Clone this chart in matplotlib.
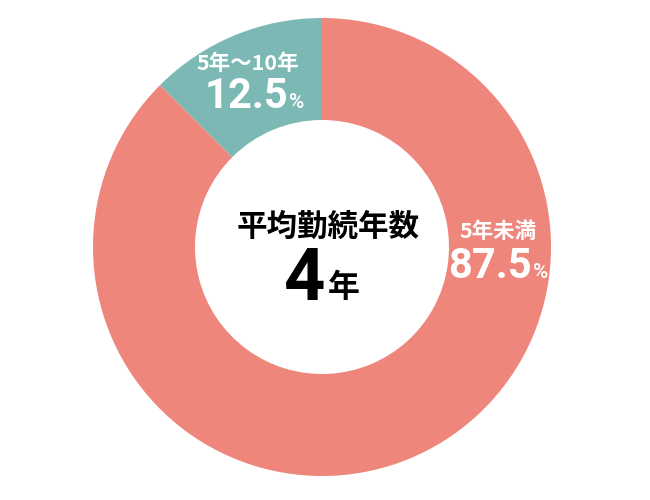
import matplotlib
matplotlib.use("Agg")
import matplotlib.pyplot as plt

categories = ["5年未満", "5年〜10年"]
values = [87.5, 12.5]
colors = ["#EE867C", "#7CB9B4"]
center_title = "平均勤続年数"
center_value = "4"
center_unit = "年"

plt.rcParams['font.family'] = ['Noto Sans CJK JP', 'DejaVu Sans']

fig = plt.figure(figsize=(6.5, 5), dpi=100)
ax = fig.add_axes([0, 0, 1, 1])

cx, cy, R = 322, 253, 229
ax.pie(values, colors=colors, startangle=90, counterclock=False,
       radius=R, center=(cx, cy), wedgeprops=dict(width=R - 127, linewidth=0),
       frame=True)
ax.set_xlim(0, 650)
ax.set_ylim(0, 500)
ax.set_aspect('equal')
ax.axis('off')

num_kw = dict(family=['Roboto', 'Noto Sans CJK JP'], fontweight='bold')

# 5年〜10年 label
ax.text(248, 436, categories[1], ha='center', va='center', color='white',
        fontsize=15.5, fontweight='bold')
ax.text(288, 404, f"{values[1]}", ha='right', va='center', color='white',
        fontsize=30, **num_kw)
ax.text(289, 398, "%", ha='left', va='center', color='white',
        fontsize=15, family=['Roboto', 'Noto Sans CJK JP'], fontweight='medium')

# 5年未満 label
ax.text(498, 269, categories[0], ha='center', va='center', color='white',
        fontsize=15.5, fontweight='bold')
ax.text(532, 234, f"{values[0]}", ha='right', va='center', color='white',
        fontsize=30, **num_kw)
ax.text(533, 228, "%", ha='left', va='center', color='white',
        fontsize=15, family=['Roboto', 'Noto Sans CJK JP'], fontweight='medium')

# center
ax.text(328, 273, center_title, ha='center', va='center', color='black',
        fontsize=22, fontweight='bold')
ax.text(304, 220, center_value, ha='center', va='center', color='black',
        fontsize=52, **num_kw)
ax.text(344, 212, center_unit, ha='center', va='center', color='black',
        fontsize=23, fontweight='bold')

fig.savefig("out.png", dpi=100)
